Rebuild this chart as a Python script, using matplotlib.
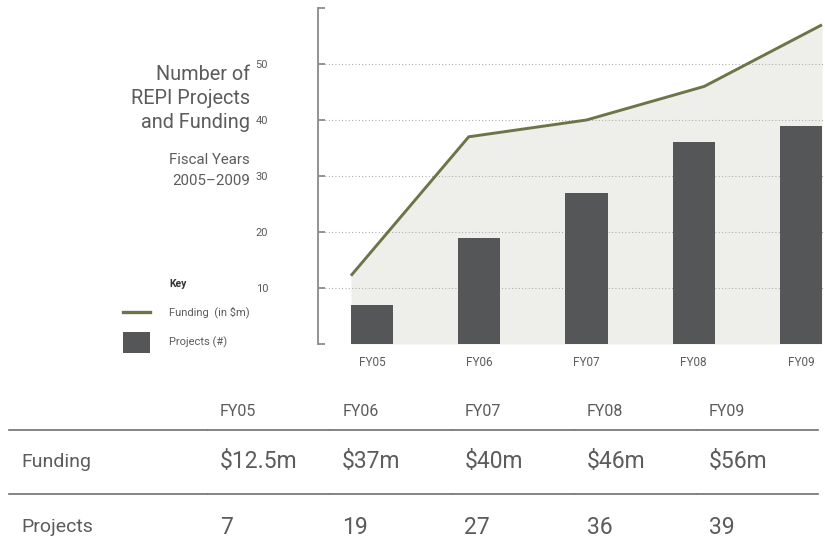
import numpy as np
import matplotlib
matplotlib.use("Agg")
import matplotlib.pyplot as plt
from matplotlib.lines import Line2D
from matplotlib.patches import Rectangle

# ---------------- data ----------------
years = ["FY05", "FY06", "FY07", "FY08", "FY09"]
funding = [12.2, 37, 40, 46, 57]          # line as drawn in the chart ($m)
projects = [7, 19, 27, 36, 39]             # bars (#)
funding_labels = ["$12.5m", "$37m", "$40m", "$46m", "$56m"]
y_ticks = [0, 10, 20, 30, 40, 50, 60]
y_tick_labels = ["", "10", "20", "30", "40", "50", ""]
title_lines = ["Number of", "REPI Projects", "and Funding"]
subtitle_lines = ["Fiscal Years", "2005\u20132009"]
row_names = ["Funding", "Projects"]

# ---------------- style ----------------
W, H = 825, 558
TXT = "#5b5c5e"
OLIVE = "#6b7548"
BAR = "#555658"
FILL = "#eeefea"
AX = "#8a8a8a"
FONT = "Roboto"
WT = "normal"
plt.rcParams["font.family"] = [FONT, "DejaVu Sans"]

def fx(x):
    return x / W

def fy(y):
    return 1 - y / H

fig = plt.figure(figsize=(W / 100, H / 100), dpi=100)
fig.patch.set_facecolor("white")

# main axes
ax_l, ax_r, ax_t, ax_b = 317.5, 825, 8, 344
ax = fig.add_axes([fx(ax_l), fy(ax_b), (ax_r - ax_l) / W, (ax_b - ax_t) / H])
ax.set_facecolor("none")

n = len(years)
xs = np.arange(n)
bar_w = 0.392
line_x = np.linspace(-bar_w / 2, n - 1 + bar_w / 2, n)

ax.fill_between(line_x, funding, 0, color=FILL, zorder=1, linewidth=0)
for t in y_ticks[1:-1]:
    ax.axhline(t, xmin=0.015, xmax=1, color="#a0a0a0", linestyle=(0, (0.8, 2.2)),
               linewidth=0.8, zorder=1.5)
ax.bar(xs, projects, width=bar_w, color=BAR, zorder=2, linewidth=0)
ax.plot(line_x, funding, color=OLIVE, linewidth=2.1, zorder=3,
        solid_capstyle="butt", solid_joinstyle="miter")

ax.set_xlim(-0.508, 4.224)
ax.set_ylim(0, 60)
for s in ["top", "right", "bottom"]:
    ax.spines[s].set_visible(False)
ax.spines["left"].set_color(AX)
ax.spines["left"].set_linewidth(1.3)

ax.set_yticks(y_ticks)
ax.set_yticklabels(y_tick_labels)
ax.tick_params(axis="y", direction="in", length=5, width=1.3, color=AX,
               pad=35.5, labelsize=8, labelcolor=TXT)
ax.set_xticks(xs)
ax.set_xticklabels(years)
ax.tick_params(axis="x", length=0, pad=9, labelsize=8.5, labelcolor=TXT)

# title block
for i, t in enumerate(title_lines):
    fig.text(fx(250), fy(74 + 24 * i), t, ha="right", va="center",
             fontsize=14.3, color=TXT, fontweight=WT)
for i, t in enumerate(subtitle_lines):
    fig.text(fx(250), fy(160 + 21 * i), t, ha="right", va="center",
             fontsize=10.8, color=TXT, fontweight=WT)

# key
fig.text(fx(169), fy(284), "Key", ha="left", va="center", fontsize=7.5,
         fontweight="bold", color="#333333")
fig.add_artist(Line2D([fx(123), fx(150)], [fy(312), fy(312)], color=OLIVE,
                      linewidth=2.4, transform=fig.transFigure))
fig.text(fx(169), fy(312), "Funding  (in $m)", ha="left", va="center",
         fontsize=8, color=TXT)
fig.add_artist(Rectangle((fx(123), fy(353)), 27 / W, 21 / H, color=BAR,
                         transform=fig.transFigure, linewidth=0))
fig.text(fx(169), fy(342), "Projects (#)", ha="left", va="center",
         fontsize=8, color=TXT)

# table
col_x = [220 + 122.2 * i for i in range(n)]
hdr_y, line1_y, fund_y, line2_y, proj_y = 412, 429.5, 462, 494, 527
for i, yname in enumerate(years):
    fig.text(fx(col_x[i]), fy(hdr_y), yname, ha="left", va="center",
             fontsize=11.5, color=TXT, fontweight=WT)
    fig.text(fx(col_x[i]), fy(fund_y), funding_labels[i], ha="left",
             va="center", fontsize=16.5, color=TXT, fontweight=WT)
    fig.text(fx(col_x[i]), fy(proj_y), str(projects[i]), ha="left",
             va="center", fontsize=16.5, color=TXT, fontweight=WT)
fig.text(fx(21), fy(fund_y), row_names[0], ha="left", va="center",
         fontsize=14, color=TXT, fontweight=WT)
fig.text(fx(21), fy(proj_y), row_names[1], ha="left", va="center",
         fontsize=14, color=TXT, fontweight=WT)

seg_edges = [9] + [c - 12 for c in col_x] + [819]
for ly in (line1_y, line2_y):
    for a, b in zip(seg_edges[:-1], seg_edges[1:]):
        fig.add_artist(Line2D([fx(a), fx(b - 1)], [fy(ly), fy(ly)],
                              color="#707070", linewidth=1.2,
                              transform=fig.transFigure))

fig.savefig("out.png", dpi=100, facecolor="white")
